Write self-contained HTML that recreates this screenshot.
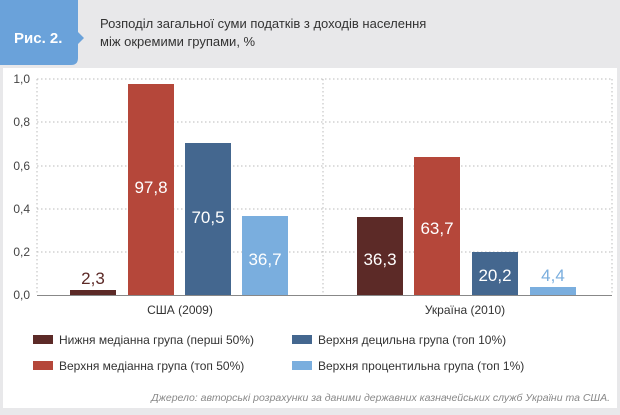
<!DOCTYPE html>
<html><head><meta charset="utf-8"><style>
body{margin:0;width:620px;height:410px;background:#e9e9eb;overflow:hidden;font-family:"Liberation Sans",sans-serif}
</style></head><body>
<svg width="620" height="410" xmlns="http://www.w3.org/2000/svg" font-family="Liberation Sans, sans-serif">
<rect x="0" y="0" width="620" height="410" fill="#e8e8ea"/>
<rect x="3" y="68" width="614" height="340" fill="#ffffff"/>
<path d="M0 0 H78 V32 L84 38 L78 44 V58 Q78 65 71 65 H0 Z" fill="#6aa2da"/>
<text x="14" y="43" font-size="15" font-weight="bold" fill="#fff">Рис. 2.</text>
<text x="100" y="28" font-size="13" fill="#333">Розподіл загальної суми податків з доходів населення</text>
<text x="100" y="46" font-size="13" fill="#333">між окремими групами, %</text>
<g stroke="#bbb" stroke-width="1" stroke-dasharray="1.5,2.5">
<line x1="37" y1="79" x2="612" y2="79"/><line x1="37" y1="122" x2="612" y2="122"/>
<line x1="37" y1="166" x2="612" y2="166"/><line x1="37" y1="209" x2="612" y2="209"/>
<line x1="37" y1="252" x2="612" y2="252"/>
<line x1="37" y1="79" x2="37" y2="295"/><line x1="323" y1="79" x2="323" y2="295"/><line x1="612" y1="79" x2="612" y2="295"/>
</g>
<line x1="37" y1="295.5" x2="612" y2="295.5" stroke="#888" stroke-width="1"/>
<g font-size="12" fill="#444" text-anchor="end">
<text x="30" y="83">1,0</text><text x="30" y="126">0,8</text><text x="30" y="170">0,6</text>
<text x="30" y="213">0,4</text><text x="30" y="256">0,2</text><text x="30" y="299">0,0</text></g>
<rect x="70" y="290" width="46" height="5" fill="#5c2a27"/>
<rect x="128" y="84" width="46" height="211" fill="#b5473a"/>
<rect x="185" y="143" width="46" height="152" fill="#44678f"/>
<rect x="242" y="216" width="46" height="79" fill="#7aaede"/>
<rect x="357" y="217" width="46" height="78" fill="#5c2a27"/>
<rect x="414" y="157" width="46" height="138" fill="#b5473a"/>
<rect x="472" y="252" width="46" height="43" fill="#44678f"/>
<rect x="530" y="287" width="46" height="8" fill="#7aaede"/>
<g font-size="17" text-anchor="middle" fill="#fff">
<text x="93" y="284" fill="#5c2a27">2,3</text>
<text x="151" y="193">97,8</text><text x="208" y="223">70,5</text><text x="265" y="265">36,7</text>
<text x="380" y="265">36,3</text><text x="437" y="234">63,7</text><text x="495" y="281">20,2</text>
<text x="553" y="281" fill="#7aaede">4,4</text></g>
<g font-size="12" fill="#333" text-anchor="middle">
<text x="180" y="314">США (2009)</text><text x="465" y="314">Україна (2010)</text></g>
<g font-size="12" fill="#333">
<rect x="33" y="335" width="20" height="9" fill="#5c2a27"/><text x="59" y="344">Нижня медіанна група (перші 50%)</text>
<rect x="33" y="361" width="20" height="9" fill="#b5473a"/><text x="59" y="370">Верхня медіанна група (топ 50%)</text>
<rect x="292" y="335" width="20" height="9" fill="#44678f"/><text x="318" y="344">Верхня децильна група (топ 10%)</text>
<rect x="292" y="361" width="20" height="9" fill="#7aaede"/><text x="318" y="370">Верхня процентильна група (топ 1%)</text></g>
<text x="610" y="401" font-size="10.5" font-style="italic" fill="#888" text-anchor="end">Джерело: авторські розрахунки за даними державних казначейських служб України та США.</text>
</svg>
</body></html>
